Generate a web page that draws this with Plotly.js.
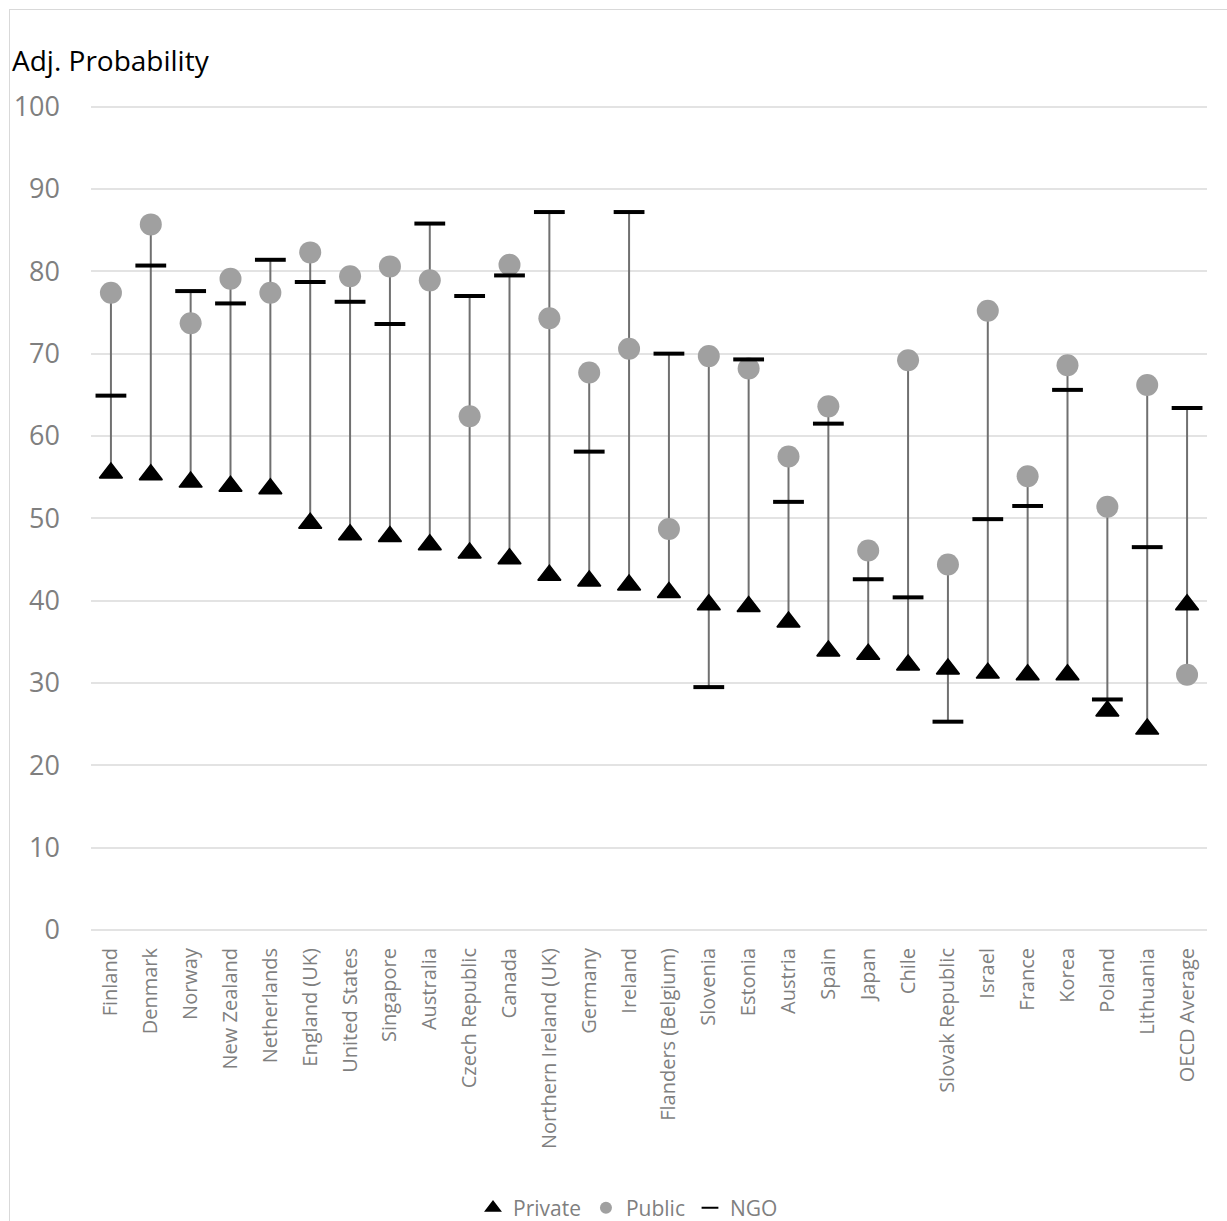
<!DOCTYPE html>
<html>
<head>
<meta charset="utf-8">
<script src="https://cdn.plot.ly/plotly-3.0.1.min.js"></script>
<style>
  html, body { margin: 0; padding: 0; background: #ffffff; }
  #wrap { position: relative; width: 1227px; height: 1221px; overflow: hidden; }
  #chart { position: absolute; left: 0; top: 0; width: 1227px; height: 1221px; }
  #frame { position: absolute; left: 9px; top: 9px; width: 1240px; height: 1240px;
           border: 1px solid #d9d9d9; pointer-events: none; box-sizing: border-box; }
</style>
</head>
<body>
<div id="wrap">
  <div id="chart"></div>
  <div id="frame"></div>
</div>
<script>
const categories = ["Finland","Denmark","Norway","New Zealand","Netherlands","England (UK)",
  "United States","Singapore","Australia","Czech Republic","Canada","Northern Ireland (UK)",
  "Germany","Ireland","Flanders (Belgium)","Slovenia","Estonia","Austria","Spain","Japan",
  "Chile","Slovak Republic","Israel","France","Korea","Poland","Lithuania","OECD Average"];

const privateVals = [55.5, 55.3, 54.4, 53.9, 53.6, 49.4, 48.0, 47.8, 46.8, 45.8, 45.1, 43.1,
  42.4, 41.9, 41.0, 39.5, 39.3, 37.4, 33.9, 33.5, 32.2, 31.7, 31.2, 31.0, 31.0, 26.6, 24.4, 39.5];

const publicVals = [77.4, 85.7, 73.7, 79.1, 77.4, 82.3, 79.4, 80.6, 78.9, 62.4, 80.8, 74.3,
  67.7, 70.6, 48.7, 69.7, 68.2, 57.5, 63.6, 46.1, 69.2, 44.4, 75.2, 55.1, 68.6, 51.4, 66.2, 31.0];

const ngoVals = [64.9, 80.7, 77.6, 76.1, 81.4, 78.7, 76.3, 73.6, 85.8, 77.0, 79.5, 87.2,
  58.1, 87.2, 70.0, 29.5, 69.3, 52.0, 61.5, 42.6, 40.4, 25.3, 49.9, 51.5, 65.6, 28.0, 46.5, 63.4];

const yTicks = [0, 10, 20, 30, 40, 50, 60, 70, 80, 90, 100];

// High-low connector lines built from the three series
const lx = [], ly = [];
categories.forEach((c, i) => {
  const v = [privateVals[i], publicVals[i], ngoVals[i]];
  lx.push(c, c, null);
  ly.push(Math.min(...v), Math.max(...v), null);
});

const FONT = '"Open Sans", "Noto Sans", sans-serif';

const traces = [
  {
    x: lx, y: ly, type: 'scatter', mode: 'lines',
    line: { color: '#707070', width: 2 },
    showlegend: false, hoverinfo: 'skip'
  },
  {
    name: 'Private', x: categories, y: privateVals, type: 'scatter', mode: 'markers',
    marker: { symbol: 'triangle-up', size: 20, color: '#000000', line: { color: '#000000', width: 1.5 } }
  },
  {
    name: 'Public', x: categories, y: publicVals, type: 'scatter', mode: 'markers',
    marker: { symbol: 'circle', size: 22, color: '#a0a0a0', line: { width: 0 } }
  },
  {
    name: 'NGO', x: categories, y: ngoVals, type: 'scatter', mode: 'markers',
    marker: { symbol: 'line-ew', size: 22, color: '#000000', line: { color: '#000000', width: 4 } }
  }
];

const layout = {
  width: 1227, height: 1221,
  paper_bgcolor: '#ffffff', plot_bgcolor: '#ffffff',
  margin: { l: 91, r: 20, t: 105, b: 291 },
  font: { family: FONT, color: '#7f7f7f' },
  title: {
    text: 'Adj. Probability',
    font: { family: FONT, size: 28, color: '#000000' },
    x: 12 / 1227, xref: 'container', xanchor: 'left',
    y: 1 - 61 / 1221, yref: 'container', yanchor: 'middle'
  },
  xaxis: {
    type: 'category', categoryorder: 'array', categoryarray: categories,
    range: [-0.5, categories.length - 0.5],
    tickangle: -90, tickfont: { family: FONT, size: 20, color: '#7f7f7f' },
    showgrid: false, showline: false, zeroline: false, ticks: '',
    ticklabelstandoff: 13
  },
  yaxis: {
    range: [0, 100.2], tickvals: yTicks, ticktext: yTicks.map(String),
    tickfont: { family: FONT, size: 27, color: '#7f7f7f' },
    showgrid: true, gridcolor: '#e3e3e3', gridwidth: 2,
    zeroline: true, zerolinecolor: '#e3e3e3', zerolinewidth: 2,
    showline: false, ticks: '', ticklabelstandoff: 30
  },
  showlegend: true,
  legend: {
    orientation: 'h', x: 628 / 1227, xanchor: 'center', xref: 'container',
    y: 1 - 1208 / 1221, yref: 'container', yanchor: 'middle',
    font: { family: FONT, size: 21, color: '#7f7f7f' },
    itemsizing: 'constant', bgcolor: 'rgba(0,0,0,0)'
  }
};

Plotly.newPlot('chart', traces, layout, { displayModeBar: false, staticPlot: true });
</script>
</body>
</html>
